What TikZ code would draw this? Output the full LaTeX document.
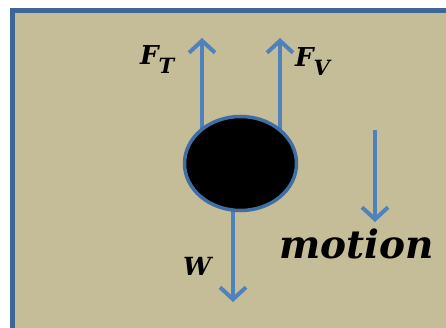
\documentclass[tikz,border=0pt]{standalone}
\usepackage{fontspec}
\newfontfamily\labfont{DejaVu Serif}
\usetikzlibrary{arrows.meta,shapes.geometric}
\definecolor{tanbg}{HTML}{C4BD97}
\definecolor{framebl}{HTML}{3D6596}
\definecolor{forcebl}{HTML}{4F81BD}
\definecolor{ballbl}{HTML}{3F6DA4}
\pgfdeclarelayer{bg}
\pgfsetlayers{bg,main}
\tikzset{
  force/.style={draw=forcebl, line width=4pt, -{Straight Barb[length=12pt,width=26pt,line width=4pt]}},
  lab/.style={inner sep=0pt, text=black, font=\labfont\bfseries\itshape},
}
\newcommand{\sublab}[2]{{\fontsize{26}{30}\selectfont #1}\raisebox{-9pt}{\fontsize{21}{24}\selectfont #2}}
\begin{document}
\begin{tikzpicture}[x=1pt,y=-1pt]
\useasboundingbox (0,0) rectangle (446,328);
\clip (0,0) rectangle (446,328);
\begin{pgfonlayer}{bg}
\fill[white] (0,0) rectangle (446,328);
\draw[framebl, line width=5pt, fill=tanbg] (12.5,10.5) rectangle (470,350);
\end{pgfonlayer}
\node[ellipse, draw=ballbl, line width=3.5pt, fill=black, minimum width=112pt, minimum height=94pt, inner sep=0pt] (ball) at (240.5,163.5) {};
\coordinate (ftTop) at (202,38);
\coordinate (fvTop) at (280,38);
\coordinate (wEnd) at (233,302);
\coordinate (mTop) at (375,130);
\coordinate (mEnd) at (375,222);
\begin{pgfonlayer}{bg}
\draw[force] (ftTop |- ball.center) -- (ftTop);
\draw[force] (fvTop |- ball.center) -- (fvTop);
\draw[force] (wEnd |- ball.center) -- (wEnd);
\draw[force] (mTop) -- (mEnd);
\end{pgfonlayer}
\node[lab, anchor=base west] (ft) at (140,65) {\sublab{F}{T}};
\node[lab, anchor=base west] (fv) at (295,67) {\sublab{F}{V}};
\node[lab, anchor=base west] (w) at (183,275) {\fontsize{25}{28}\selectfont W};
\node[lab, anchor=base west] (motion) at (279,258) {\fontsize{39}{46}\selectfont motion};
\end{tikzpicture}
\end{document}
